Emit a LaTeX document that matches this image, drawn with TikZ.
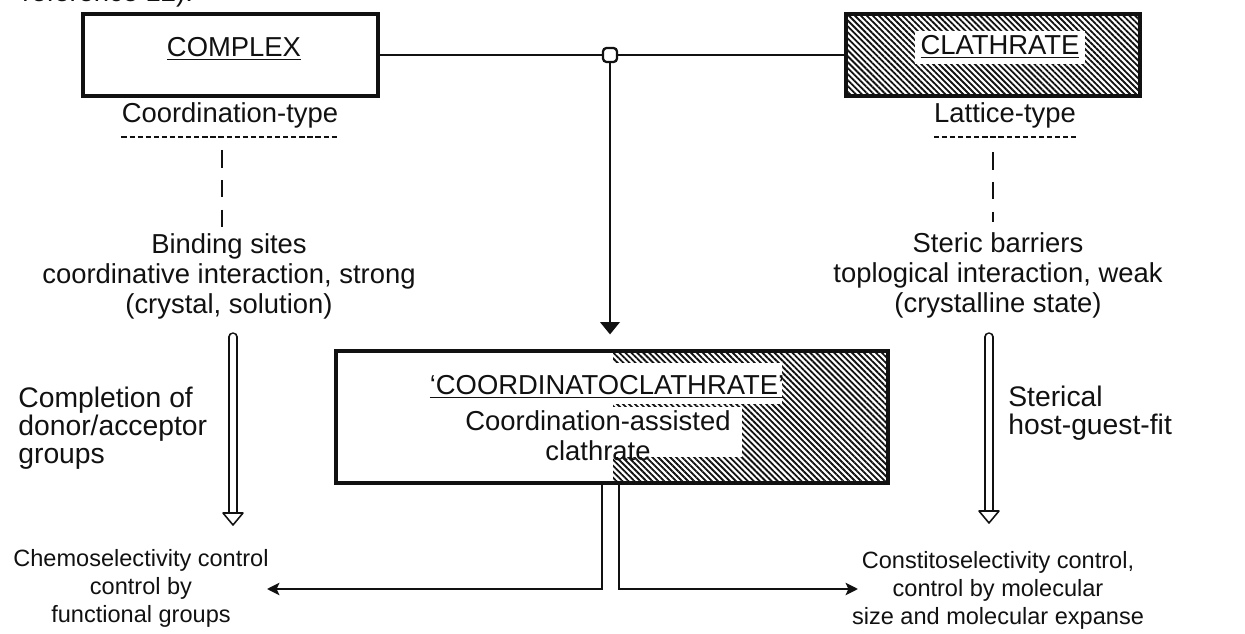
\documentclass[tikz,border=0pt]{standalone}
\usepackage{fontspec}
\setmainfont{Liberation Sans}
\usetikzlibrary{arrows.meta,positioning,calc,backgrounds,patterns.meta}
\definecolor{ink}{HTML}{111111}
\tikzset{
  boxframe/.style={draw=ink,line width=1.8pt,minimum height=1.64cm,inner sep=0pt},
  hatchfill/.style={pattern={Lines[angle=-45,distance=2.4pt,line width=1.05pt]},pattern color=ink},
  link/.style={draw=ink,line width=1.5pt},
  flow/.style={link,-{Triangle[length=7pt,width=11pt]}},
  sideflow/.style={link,-{Stealth[length=7pt,width=7pt,inset=1.5pt]}},
  dashlink/.style={draw=ink,line width=1.1pt,dash pattern=on 10pt off 7pt},
  underdash/.style={draw=ink,line width=1.1pt,dash pattern=on 3pt off 1.6pt},
  hollow/.style={draw=ink,line width=0.9pt,double=white,double distance=3.6pt,line cap=round},
  hollowhead/.style={draw=ink,line width=0.9pt,fill=white,line join=round},
  labeltext/.style={font=\fontsize{15.6}{17.1}\selectfont,text=ink,align=center,inner sep=0pt},
  sidetext/.style={labeltext,font=\fontsize{16.1}{16}\selectfont,align=left},
  endtext/.style={labeltext,font=\fontsize{13.4}{16}\selectfont}
}

\begin{document}
\begin{tikzpicture}[x=1cm,y=1cm]
\useasboundingbox (0,0) rectangle (24.9,-12.68);
\node[labeltext,anchor=base west] (ref) at (0.44,-0.03) {reference 12).};

% top row
\node[boxframe,minimum width=5.9cm] (complex) at (4.61,-1.1) {};
\node[labeltext,anchor=base] (complextxt) at (4.68,-1.14) {\underline{COMPLEX}};
\node[boxframe,hatchfill,minimum width=5.88cm] (clath) at (19.86,-1.1) {};
\node[labeltext,anchor=base,fill=white,inner xsep=3pt,inner ysep=3pt] (clathtxt) at (20.0,-1.1) {\underline{CLATHRATE}};
\coordinate (jc) at (12.2,-1.1);
\draw[link] (complex.east) -- (jc) -- (clath.west);
\node[draw=ink,fill=white,rounded corners=2pt,minimum size=0.28cm,inner sep=0pt,line width=1.3pt] (joint) at (jc) {};

% centre box
\node[boxframe,minimum width=11.04cm,minimum height=2.64cm] (coord) at (12.24,-8.34) {};
\begin{scope}[on background layer]
\fill[hatchfill] (12.26,-7.02) rectangle (coord.south east);
\fill[white] (12.26,-7.26) rectangle (15.64,-8.08);
\fill[white] (12.26,-8.14) rectangle (14.84,-9.14);
\end{scope}
\node[labeltext,anchor=base] (coordtitle) at (12.14,-7.9) {\underline{`COORDINATOCLATHRATE'}};
\node[labeltext,anchor=north] (coordsub) at (11.96,-8.2) {Coordination-assisted\\clathrate};
\draw[flow,shorten >=0.3cm] (joint.south) -- (joint |- coord.north);

% left column
\node[labeltext,anchor=base] (ctype) at (4.6,-2.46) {Coordination-type};
\draw[underdash] ([yshift=-0.28cm]ctype.base west) -- ([yshift=-0.28cm]ctype.base east);
\node[labeltext,anchor=north] (bind) at (4.58,-4.66) {Binding sites\\coordinative interaction, strong\\(crystal, solution)};
\draw[dashlink] ([xshift=-0.16cm,yshift=-0.54cm]ctype.base) -- ([xshift=-0.14cm,yshift=0.12cm]bind.north);
\node[sidetext,anchor=north west] (complet) at (0.36,-7.73) {Completion of\\donor/acceptor\\groups};
\coordinate (lefttop) at (4.66,-6.74);
\coordinate (leftend) at (4.66,-10.26);
\draw[hollow] (lefttop) -- (leftend);
\draw[hollowhead] ([xshift=-0.2cm]leftend) -- ([xshift=0.2cm]leftend) -- ([yshift=-0.24cm]leftend) -- cycle;
\node[endtext,anchor=north] (chemo) at (2.82,-10.98) {Chemoselectivity control\\control by\\functional groups};

% right column
\node[labeltext,anchor=base] (ltype) at (20.1,-2.46) {Lattice-type};
\draw[underdash] ([yshift=-0.28cm]ltype.base west) -- ([yshift=-0.28cm]ltype.base east);
\node[labeltext,anchor=north] (steric) at (19.96,-4.64) {Steric barriers\\toplogical interaction, weak\\(crystalline state)};
\draw[dashlink] ([xshift=-0.24cm,yshift=-0.58cm]ltype.base) -- ([xshift=-0.1cm,yshift=0.2cm]steric.north);
\node[sidetext,anchor=north west] (fit) at (20.16,-7.71) {Sterical\\host-guest-fit};
\coordinate (righttop) at (19.78,-6.74);
\coordinate (rightend) at (19.78,-10.22);
\draw[hollow] (righttop) -- (rightend);
\draw[hollowhead] ([xshift=-0.2cm]rightend) -- ([xshift=0.2cm]rightend) -- ([yshift=-0.24cm]rightend) -- cycle;
\node[endtext,anchor=north] (constito) at (19.96,-11.02) {Constitoselectivity control,\\control by molecular\\size and molecular expanse};

% bottom branches
\coordinate (chemoend) at (5.34,-11.78);
\coordinate (constend) at (17.16,-11.78);
\draw[sideflow] ([xshift=-0.2cm]coord.south) |- (chemoend);
\draw[sideflow] ([xshift=0.14cm]coord.south) |- (constend);
\end{tikzpicture}
\end{document}
